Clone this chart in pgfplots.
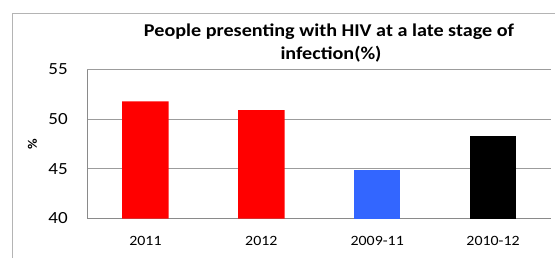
\documentclass[border=0pt]{standalone}
\usepackage{pgfplots}
\pgfplotsset{compat=1.18}
\usepackage{fontspec}
\setmainfont{Carlito}[FakeStretch=1.12]
\definecolor{barblue}{HTML}{3366FF}
\definecolor{gridgray}{HTML}{9C9C9C}
\definecolor{axgray}{HTML}{8A8A8A}
\definecolor{framegray}{HTML}{B4B4B4}
\begin{document}
\begin{tikzpicture}[x=1pt,y=1pt]
\useasboundingbox (0,0) rectangle (555,258);
\draw[line width=1.3pt, color=framegray] (12.4,0) -- (12.4,244.5) -- (556,244.5);
\begin{axis}[
  at={(87.5pt,39.5pt)}, anchor=south west,
  scale only axis, width=463.5pt, height=149pt,
  xmin=-0.5, xmax=3.5, ymin=40, ymax=55,
  ytick={40,45,50,55}, xtick={0,1,2,3},
  xticklabels={2011,2012,2009-11,2010-12},
  axis x line*=bottom, axis y line*=left,
  axis line style={axgray, line width=1.6pt, -},
  ymajorgrids, grid style={gridgray, line width=1.3pt},
  major tick length=0pt,
  /pgf/number format/assume math mode=true,
  yticklabel style={font=\fontsize{17}{19}\selectfont, inner sep=0pt, anchor=east, xshift=-19.5pt},
  xticklabel style={font=\fontsize{14.2}{16}\selectfont, inner sep=0pt, anchor=north, yshift=-18pt},
  ylabel={\%},
  ylabel style={font=\bfseries\fontsize{13}{15}\selectfont, at={(axis description cs:-0.1187,0.5)}, anchor=center, rotate=0},
  clip=true,
]
\addplot[ybar, bar width=46.5pt, bar shift=0pt, fill=red, draw=none] coordinates {(0,51.8) (1,50.9)};
\addplot[ybar, bar width=46.5pt, bar shift=0pt, fill=barblue, draw=none] coordinates {(2,44.9)};
\addplot[ybar, bar width=46.5pt, bar shift=0pt, fill=black, draw=none] coordinates {(3,48.3)};
\end{axis}
\node[anchor=base, font=\bfseries\fontsize{18}{22}\selectfont] at (329,221.3) {People presenting with HIV at a late stage of};
\node[anchor=base, font=\bfseries\fontsize{18}{22}\selectfont] at (331,198.5) {infection(\%)};
\end{tikzpicture}
\end{document}
